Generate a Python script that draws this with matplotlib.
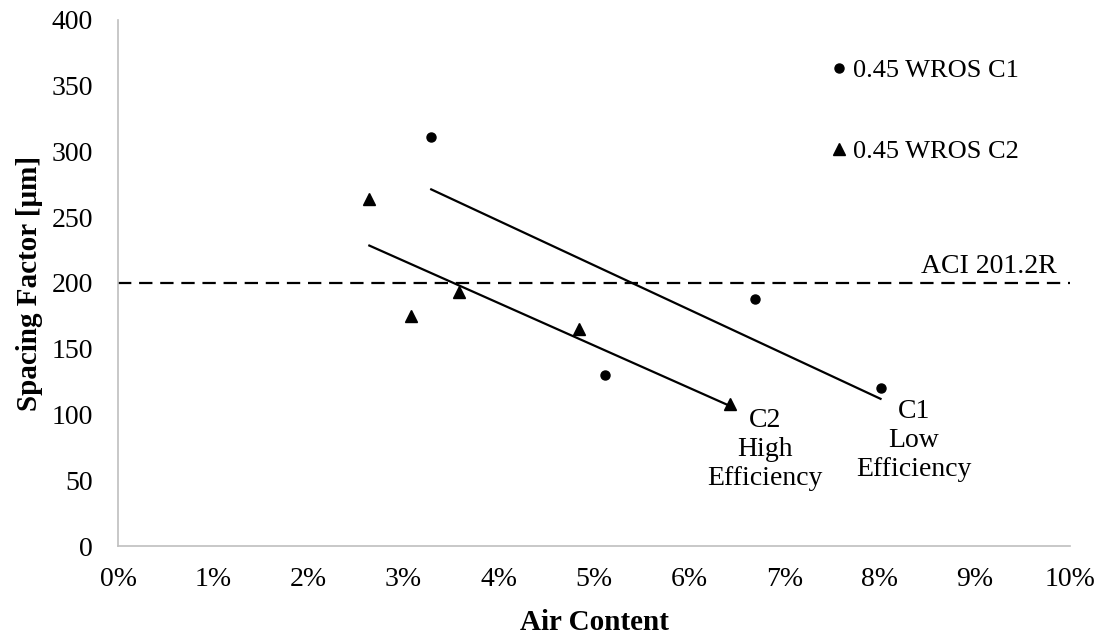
import numpy as np
import matplotlib
matplotlib.use("Agg")
import matplotlib.pyplot as plt
from matplotlib.ticker import FuncFormatter

plt.rcParams["font.family"] = ["Liberation Serif", "DejaVu Serif"]

# air content (%) and spacing factor (um) per mix
c1_air = [3.29, 5.12, 6.69, 8.01]
c1_spacing = [311, 130, 188, 120]
c2_air = [2.64, 3.08, 3.58, 4.84, 6.43]
c2_spacing = [264, 175, 193, 165, 108]
aci_limit = 200

x_ticks = list(range(0, 11))
y_ticks = list(range(0, 401, 50))


def fit_line(x, y):
    """Least-squares trend line spanning the data range."""
    slope, icpt = np.polyfit(x, y, 1)
    xs = np.array([min(x), max(x)])
    return xs, slope * xs + icpt


fig = plt.figure(figsize=(11.05, 6.38), dpi=100)
ax = fig.add_axes([0.1068, 0.1442, 0.8615, 0.8245])

ax.axhline(aci_limit, color="black", lw=1.6, ls=(0, (6, 3.5)), zorder=1)

for x, y in [(c1_air, c1_spacing), (c2_air, c2_spacing)]:
    xs, ys = fit_line(x, y)
    ax.plot(xs, ys, color="black", lw=1.6, zorder=2)

ax.plot(c1_air, c1_spacing, "o", color="black", ms=6.5, ls="none",
        label="0.45 WROS C1", zorder=3)
ax.plot(c2_air, c2_spacing, "^", color="black", ms=8, ls="none",
        label="0.45 WROS C2", zorder=3)

ax.set_xlim(0, 10)
ax.set_ylim(0, 400)
ax.set_xticks(x_ticks)
ax.set_yticks(y_ticks)
ax.xaxis.set_major_formatter(FuncFormatter(lambda v, p: f"{v:.0f}%"))
ax.tick_params(length=0, labelsize=20)
ax.tick_params(axis="x", pad=15)
ax.tick_params(axis="y", pad=18)

for side in ["top", "right"]:
    ax.spines[side].set_visible(False)
for side in ["left", "bottom"]:
    ax.spines[side].set_color("#bfbfbf")
    ax.spines[side].set_linewidth(1.2)

ax.set_xlabel("Air Content", fontsize=21, fontweight="bold", labelpad=12)
ax.set_ylabel("Spacing Factor [\u03bcm]", fontsize=21, fontweight="bold",
              labelpad=6)

ax.text(9.86, aci_limit + 3, "ACI 201.2R", fontsize=20, ha="right",
        va="bottom")
ax.text(6.80, 105, "C2\nHigh\nEfficiency", fontsize=20, ha="center",
        va="top", linespacing=1.22)
ax.text(8.36, 112, "C1\nLow\nEfficiency", fontsize=20, ha="center",
        va="top", linespacing=1.22)

ax.legend(loc="upper left", bbox_to_anchor=(0.732, 0.962), frameon=False,
          fontsize=19, handlelength=0.4, handletextpad=0.35,
          labelspacing=2.2, borderaxespad=0.3)

fig.savefig("out.png", dpi=100)
